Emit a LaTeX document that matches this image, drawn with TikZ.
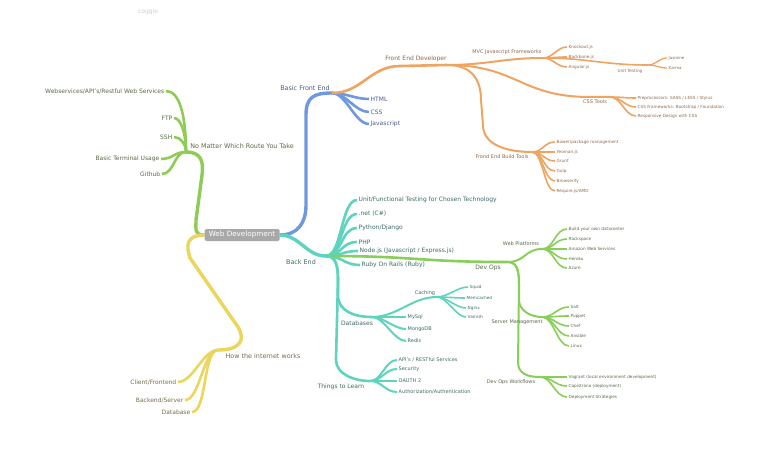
\documentclass[tikz,border=0pt]{standalone}
\usepackage{fontspec}
\setmainfont{DejaVu Sans}
\pgfdeclarelayer{bg}
\pgfdeclarelayer{lines}
\pgfsetlayers{bg,lines,main}
\definecolor{rootG}{HTML}{A8A8A8}
\definecolor{cogG}{HTML}{CFCFCF}
\definecolor{blueL}{HTML}{6F98E0}
\definecolor{blueT}{HTML}{4A5C8C}
\definecolor{orL}{HTML}{EFA462}
\definecolor{orT}{HTML}{8C6A50}
\definecolor{grL}{HTML}{8FCC56}
\definecolor{grT}{HTML}{5B6A47}
\definecolor{yeL}{HTML}{EBD55B}
\definecolor{yeT}{HTML}{786E4C}
\definecolor{teL}{HTML}{5ED3BE}
\definecolor{teT}{HTML}{3E6C66}
\definecolor{dvL}{HTML}{88CE58}
\definecolor{dvT}{HTML}{5A694A}
\begin{document}
\begin{tikzpicture}[x=1pt,y=-1pt,line cap=round,
  hc/.style={to path={.. controls +(#1,0) and +(-#1,0) .. (\tikztotarget) \tikztonodes}},
  f0/.style={font=\fontsize{7.2}{8.5}\selectfont},
  f1/.style={font=\fontsize{6.4}{7.5}\selectfont},
  f2/.style={font=\fontsize{6}{7}\selectfont},
  f3/.style={font=\fontsize{5}{6}\selectfont},
  f4/.style={font=\fontsize{4.2}{5}\selectfont},
  f5/.style={font=\fontsize{4}{5}\selectfont},
  R/.style={anchor=west,inner sep=1.5pt},
  L/.style={anchor=east,inner sep=1.5pt},
  lbl/.style={inner sep=0pt},
  w1/.style={line width=3.4pt},
  w2/.style={line width=2.6pt},
  w3/.style={line width=2.0pt},
  w4/.style={line width=1.6pt},
  w5/.style={line width=1.3pt}]
\begin{pgfonlayer}{bg}
\fill[white] (0,0) rectangle (768,476);
\end{pgfonlayer}
\useasboundingbox (0,0) rectangle (768,476);

% root
\node[f0,fill=rootG,text=white,rounded corners=1.5pt,minimum width=75pt,minimum height=12pt,inner sep=1pt] (root) at (242,235) {Web Development};
\node[font=\fontsize{6}{7}\selectfont,text=cogG] (cog) at (148,12) {coggle};

% blue
\coordinate (bfe) at (332,93);
\node[f1,text=blueT,lbl] (bfeL) at (305,88) {Basic Front End};
\node[f2,text=blueT,R] (html) at (369,99) {HTML};
\node[f2,text=blueT,R] (cssb) at (369,112) {CSS};
\node[f2,text=blueT,R] (js) at (369,124) {Javascript};

% orange
\coordinate (fed) at (447,65);
\node[f2,text=orT,lbl] (fedL) at (416,59) {Front End Developer};
\coordinate (mvc) at (543,58);
\node[f3,text=orT,lbl] (mvcL) at (507,52) {MVC Javascript Frameworks};
\node[f4,text=orT,R] (ko) at (567,47) {Knockout.js};
\node[f4,text=orT,R] (bb) at (567,57) {Backbone.js};
\node[f4,text=orT,R] (ng) at (567,67) {Angular.js};
\coordinate (ut) at (648,65);
\node[f4,text=orT,lbl] (utL) at (630,71) {Unit Testing};
\node[f5,text=orT,R] (jas) at (667,58) {Jasmine};
\node[f5,text=orT,R] (kar) at (667,68) {Karma};
\coordinate (csst) at (610,97);
\node[f3,text=orT,lbl] (csstL) at (595,102) {CSS Tools};
\node[f4,text=orT,R] (pre) at (636,98) {Preprocessors: SASS / LESS / Stylus};
\node[f4,text=orT,R] (cfw) at (636,107) {CSS Frameworks: Bootstrap / Foundation};
\node[f4,text=orT,R] (rwd) at (636,116) {Responsive Design with CSS};
\coordinate (fbt) at (532,152);
\node[f3,text=orT,lbl] (fbtL) at (502,157) {Frond End Build Tools};
\node[f4,text=orT,R] (bower) at (555,142) {Bower/package management};
\node[f4,text=orT,R] (yeo) at (555,152) {Yeoman.js};
\node[f4,text=orT,R] (grunt) at (555,161) {Grunt};
\node[f4,text=orT,R] (gulp) at (555,171) {Gulp};
\node[f4,text=orT,R] (brow) at (555,181) {Browserify};
\node[f4,text=orT,R] (req) at (555,191) {Require.js/AMD};

% green
\coordinate (nm) at (186,152);
\node[f1,text=grT,lbl] (nmL) at (242,146) {No Matter Which Route You Take};
\node[f2,text=grT,L] (ws) at (166,91) {Webservices/API's/Restful Web Services};
\node[f2,text=grT,L] (ftp) at (174,118) {FTP};
\node[f2,text=grT,L] (ssh) at (174,137) {SSH};
\node[f2,text=grT,L] (btu) at (161,159) {Basic Terminal Usage};
\node[f2,text=grT,L] (gh) at (162,174) {Github};

% yellow
\coordinate (hiw) at (218,350);
\node[f1,text=yeT,lbl] (hiwL) at (263,356) {How the internet works};
\node[f2,text=yeT,L] (cf) at (178,382) {Client/Frontend};
\node[f2,text=yeT,L] (bs) at (185,400) {Backend/Server};
\node[f2,text=yeT,L] (dbase) at (192,412) {Database};

% teal
\coordinate (be) at (326,256);
\node[f1,text=teT,lbl] (beL) at (301,262) {Back End};
\node[f2,text=teT,R] (uft) at (357,200) {Unit/Functional Testing for Chosen Technology};
\node[f2,text=teT,R] (net) at (357,214) {.net (C\#)};
\node[f2,text=teT,R] (pyd) at (357,228) {Python/Django};
\node[f2,text=teT,R] (php) at (357,242) {PHP};
\node[f2,text=teT,R] (node) at (358,251) {Node.js (Javascript / Express.js)};
\node[f2,text=teT,R] (ror) at (360,265) {Ruby On Rails (Ruby)};

\coordinate (devops) at (508,262);
\node[f2,text=dvT,lbl] (devopsL) at (488,268) {Dev Ops};
\coordinate (wp) at (542,249);
\node[f3,text=dvT,lbl] (wpL) at (521,244) {Web Platforms};
\node[f4,text=dvT,R] (byod) at (567,229) {Build your own datacenter};
\node[f4,text=dvT,R] (rack) at (567,239) {Rackspace};
\node[f4,text=dvT,R] (aws) at (567,249) {Amazon Web Services};
\node[f4,text=dvT,R] (her) at (567,259) {Heroku};
\node[f4,text=dvT,R] (azu) at (567,268) {Azure};
\coordinate (sm) at (542,317);
\node[f3,text=dvT,lbl] (smL) at (517,322) {Server Management};
\node[f4,text=dvT,R] (salt) at (569,307) {Salt};
\node[f4,text=dvT,R] (pup) at (569,316) {Puppet};
\node[f4,text=dvT,R] (chef) at (569,326) {Chef};
\node[f4,text=dvT,R] (ans) at (569,336) {Ansible};
\node[f4,text=dvT,R] (lin) at (569,346) {Linux};
\coordinate (dow) at (540,377);
\node[f3,text=dvT,lbl] (dowL) at (511,382) {Dev Ops Workflows};
\node[f4,text=dvT,R] (vag) at (567,377) {Vagrant (local environment development)};
\node[f4,text=dvT,R] (cap) at (567,386) {Capistrano (deployment)};
\node[f4,text=dvT,R] (dep) at (567,397) {Deployment Strategies};

\coordinate (db) at (372,317);
\node[f2,text=teT,lbl] (dbL) at (357,323) {Databases};
\coordinate (cach) at (437,297);
\node[f3,text=teT,lbl] (cachL) at (425,293) {Caching};
\node[f4,text=teT,R] (squid) at (468,287) {Squid};
\node[f4,text=teT,R] (memc) at (465,298) {Memcached};
\node[f4,text=teT,R] (ngx) at (466,308) {Nginx};
\node[f4,text=teT,R] (varn) at (466,317) {Varnish};
\node[f3,text=teT,R] (mysql) at (406,317) {MySql};
\node[f3,text=teT,R] (mongo) at (406,329) {MongoDB};
\node[f3,text=teT,R] (redis) at (406,341) {Redis};

\coordinate (ttl) at (370,381);
\node[f2,text=teT,lbl] (ttlL) at (341,387) {Things to Learn};
\node[f3,text=teT,R] (api) at (397,360) {API's / RESTful Services};
\node[f3,text=teT,R] (sec) at (397,369) {Security};
\node[f3,text=teT,R] (oauth) at (397,381) {OAUTH 2};
\node[f3,text=teT,R] (auth) at (397,392) {Authorization/Authentication};

\begin{pgfonlayer}{lines}
% blue
\draw[blueL,w1] (root.east) .. controls +(18,0) and +(0,18) .. (306,205) -- (306,115) .. controls +(0,-18) and +(-18,0) .. (bfe);
\foreach \n in {html,cssb,js} \draw[blueL,w2] (bfe) to[hc=14] (\n.west);
% orange
\draw[orL,w2] (bfe) .. controls +(30,0) and +(-30,0) .. (400,66) -- (fed);
\draw[orL,w3] (fed) to[hc=40] (mvc);
\foreach \n in {ko,bb,ng} \draw[orL,w4] (mvc) to[hc=10] (\n.west);
\draw[orL,w4] (mvc) to[hc=45] (ut);
\foreach \n in {jas,kar} \draw[orL,w5] (ut) to[hc=8] (\n.west);
\draw[orL,w3] (fed) .. controls +(70,0) and +(-70,0) .. (590,97) -- (csst);
\foreach \n in {pre,cfw,rwd} \draw[orL,w4] (csst) to[hc=11] (\n.west);
\draw[orL,w3] (fed) .. controls +(25,0) and +(0,-20) .. (481,100) -- (483,125) .. controls +(0,20) and +(-25,0) .. (fbt);
\foreach \n in {bower,yeo,grunt,gulp,brow,req} \draw[orL,w4] (fbt) to[hc=11] (\n.west);
% green
\draw[grL,w1] (root.west) .. controls +(-10,0) and +(0,10) .. (196,220) -- (202,175) .. controls +(2,-15) and +(14,0) .. (nm);
\draw[grL,w2] (nm) .. controls +(0,-35) and +(14,0) .. (ws.east);
\draw[grL,w2] (nm) .. controls +(0,-18) and +(7,0) .. (ftp.east);
\draw[grL,w2] (nm) .. controls +(0,-8) and +(6,0) .. (ssh.east);
\draw[grL,w2] (nm) to[hc=-12] (btu.east);
\draw[grL,w2] (nm) to[hc=-12] (gh.east);
% yellow
\draw[yeL,w1] (root.west) .. controls (186,235) and (186,246) .. (190,258) -- (238,327) .. controls (246,340) and (240,350) .. (hiw);
\foreach \n in {cf,bs,dbase} \draw[yeL,w2] (hiw) to[hc=-15] (\n.east);
% teal
\draw[teL,w1] (root.east) .. controls +(20,0) and +(-20,0) .. (be);
\foreach \n in {uft,net,pyd,php,node,ror} \draw[teL,w2] (be) to[hc=16] (\n.west);
\draw[dvL,w2] (be) .. controls +(90,0) and +(-90,0) .. (devops);
\draw[dvL,w3] (devops) to[hc=17] (wp);
\foreach \n in {byod,rack,aws,her,azu} \draw[dvL,w4] (wp) to[hc=12] (\n.west);
\draw[dvL,w3] (devops) .. controls +(10,0) and +(0,-12) .. (519,285) -- (519,300) .. controls +(0,10) and +(-12,0) .. (sm);
\draw[dvL,w3] (devops) .. controls +(10,0) and +(0,-12) .. (519,285) -- (518,362) .. controls +(0,12) and +(-12,0) .. (dow);
\foreach \n in {salt,pup,chef,ans,lin} \draw[dvL,w4] (sm) to[hc=12] (\n.west);
\foreach \n in {vag,cap,dep} \draw[dvL,w4] (dow) to[hc=12] (\n.west);
\draw[teL,w2] (be) .. controls +(10,0) and +(0,-14) .. (338,280) -- (338,295) .. controls +(0,16) and +(-18,0) .. (db);
\draw[teL,w3] (db) to[hc=25] (cach);
\foreach \n in {squid,memc,ngx,varn} \draw[teL,w4] (cach) to[hc=10] (\n.west);
\foreach \n in {mysql,mongo,redis} \draw[teL,w3] (db) to[hc=12] (\n.west);
\draw[teL,w2] (be) .. controls +(10,0) and +(0,-14) .. (338,280) -- (336,360) .. controls +(0,14) and +(-16,0) .. (ttl);
\foreach \n in {api,sec,oauth,auth} \draw[teL,w3] (ttl) to[hc=12] (\n.west);
\end{pgfonlayer}
\end{tikzpicture}
\end{document}
